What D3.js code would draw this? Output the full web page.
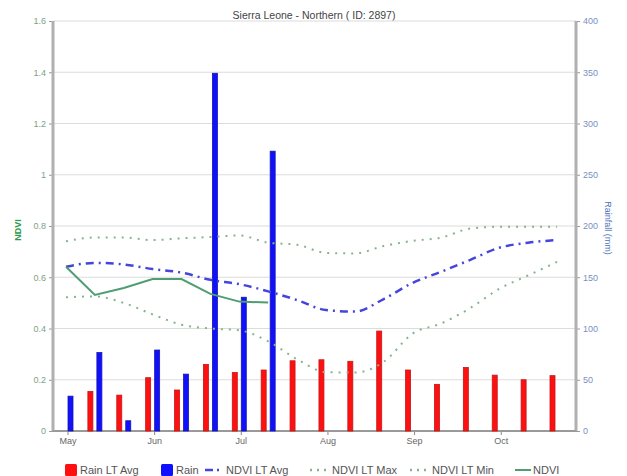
<!DOCTYPE html>
<html>
<head>
<meta charset="utf-8">
<script src="https://cdn.jsdelivr.net/npm/d3@7/dist/d3.min.js"></script>
<style>
  html, body { margin: 0; padding: 0; background: #fff; }
  svg { display: block; font-family: "Liberation Sans", Arial, sans-serif; }
</style>
</head>
<body>
<svg id="chart" width="627" height="476"></svg>
<script>
// Dekads from early May to late October (3 per month)
const dekads = d3.range(18);
const monthLabels = ["May", "Jun", "Jul", "Aug", "Sep", "Oct"];
const monthStart = [0, 3, 6, 9, 12, 15];

// Rainfall (mm per dekad)
const rainLTAvg = [null, 38.5, 35, 52, 40, 65, 57, 59.5, 68.5, 69.5, 68, 97.5, 59.5, 45.5, 62, 54.5, 50, 54];
const rain = [34, 76.5, 10, 79, 55.5, 349, 130.5, 273];

// NDVI
const ndviLTAvg = [0.641, 0.656, 0.650, 0.632, 0.618, 0.590, 0.573, 0.545, 0.511, 0.472, 0.466, 0.515, 0.578, 0.622, 0.668, 0.715, 0.735, 0.745];
const ndviLTMax = [0.740, 0.755, 0.755, 0.745, 0.752, 0.757, 0.763, 0.735, 0.727, 0.695, 0.693, 0.722, 0.742, 0.755, 0.790, 0.797, 0.797, 0.797];
const ndviLTMin = [0.522, 0.525, 0.500, 0.455, 0.415, 0.400, 0.393, 0.350, 0.280, 0.230, 0.228, 0.270, 0.380, 0.420, 0.480, 0.555, 0.607, 0.660];
const ndvi = [0.641, 0.531, 0.558, 0.593, 0.593, 0.535, 0.505, 0.501];

const ndviTicks = [0, 0.2, 0.4, 0.6, 0.8, 1, 1.2, 1.4, 1.6];
const rainTicks = [0, 50, 100, 150, 200, 250, 300, 350, 400];

const svg = d3.select("#chart");
const plotL = 53, plotR = 576, plotT = 21, plotB = 431;

const x = d3.scaleLinear().domain([0, 17]).range([66, 557]);
const y = d3.scaleLinear().domain([0, 1.6]).range([plotB, plotT]);
const y2 = d3.scaleLinear().domain([0, 400]).range([plotB, plotT]);

// Title
svg.append("text")
  .attr("x", 314).attr("y", 19)
  .attr("text-anchor", "middle")
  .attr("font-size", 10.5).attr("fill", "#444")
  .text("Sierra Leone - Northern ( ID: 2897)");

// Horizontal grid
svg.append("g").selectAll("line").data(ndviTicks.slice(1)).join("line")
  .attr("x1", plotL).attr("x2", plotR)
  .attr("y1", d => y(d)).attr("y2", d => y(d))
  .attr("stroke", "#dcdcdc").attr("stroke-width", 1.2);

// Left axis (NDVI)
const gl = svg.append("g").attr("transform", `translate(${plotL},0)`)
  .call(d3.axisLeft(y).tickValues(ndviTicks).tickFormat(d3.format("~g")).tickSize(4).tickPadding(3));
gl.select(".domain").remove();
gl.selectAll(".tick line").attr("stroke", "#999");
gl.selectAll(".tick text").attr("fill", "#7aa382").attr("font-size", 9)
  .attr("font-family", "Liberation Sans, Arial, sans-serif");

// Right axis (rain)
const gr = svg.append("g").attr("transform", `translate(${plotR},0)`)
  .call(d3.axisRight(y2).tickValues(rainTicks).tickSize(4).tickPadding(3));
gr.select(".domain").remove();
gr.selectAll(".tick line").attr("stroke", "#999");
gr.selectAll(".tick text").attr("fill", "#7890c0").attr("font-size", 9)
  .attr("font-family", "Liberation Sans, Arial, sans-serif");

// Bottom axis (months)
const gb = svg.append("g").attr("transform", `translate(0,${plotB})`)
  .call(d3.axisBottom(x).tickValues(monthStart).tickFormat((d, i) => monthLabels[i]).tickSize(4).tickPadding(3));
gb.select(".domain").remove();
gb.selectAll(".tick").attr("transform", d => `translate(${x(d) + 2},0)`);
gb.selectAll(".tick line").attr("stroke", "#888");
gb.selectAll(".tick text").attr("fill", "#666").attr("font-size", 9)
  .attr("font-family", "Liberation Sans, Arial, sans-serif");

// Axis frame lines
svg.append("line").attr("x1", plotL).attr("x2", plotL).attr("y1", plotT).attr("y2", plotB)
  .attr("stroke", "#b0b0b0").attr("stroke-width", 3);
svg.append("line").attr("x1", plotR).attr("x2", plotR).attr("y1", plotT).attr("y2", plotB)
  .attr("stroke", "#b0b0b0").attr("stroke-width", 3);
svg.append("line").attr("x1", plotL).attr("x2", plotR).attr("y1", plotB).attr("y2", plotB)
  .attr("stroke", "#9a9a9a").attr("stroke-width", 2);

// Axis titles
svg.append("text")
  .attr("transform", "translate(21,230) rotate(-90)")
  .attr("text-anchor", "middle").attr("font-size", 9).attr("font-weight", "bold")
  .attr("fill", "#2e9a4e").text("NDVI");
svg.append("text")
  .attr("transform", "translate(605,228) rotate(90)")
  .attr("text-anchor", "middle").attr("font-size", 9)
  .attr("fill", "#4a72b8").text("Rainfall (mm)");

// Rain bars
const barW = 5;
svg.append("g").selectAll("rect")
  .data(dekads.filter(i => rainLTAvg[i] != null))
  .join("rect")
  .attr("x", i => x(i) - 4.5 - barW / 2)
  .attr("y", i => y2(rainLTAvg[i]))
  .attr("width", barW)
  .attr("height", i => y2(0) - y2(rainLTAvg[i]))
  .attr("fill", "#ff1010").attr("stroke", "#c01818").attr("stroke-width", 0.8);

svg.append("g").selectAll("rect")
  .data(rain.map((v, i) => i))
  .join("rect")
  .attr("x", i => x(i) + 4.5 - barW / 2)
  .attr("y", i => y2(rain[i]))
  .attr("width", barW)
  .attr("height", i => y2(0) - y2(rain[i]))
  .attr("fill", "#1010ff").attr("stroke", "#1818a8").attr("stroke-width", 0.8);

// NDVI lines
const smooth = arr => d3.line().curve(d3.curveMonotoneX)
  .x((d, i) => x(i)).y(d => y(d))(arr);
const straight = arr => d3.line().x((d, i) => x(i)).y(d => y(d))(arr);

svg.append("path").attr("d", smooth(ndviLTMax))
  .attr("fill", "none").attr("stroke", "#86b48e").attr("stroke-width", 2)
  .attr("stroke-dasharray", "2,6");
svg.append("path").attr("d", smooth(ndviLTMin))
  .attr("fill", "none").attr("stroke", "#86b48e").attr("stroke-width", 2)
  .attr("stroke-dasharray", "2,6");
svg.append("path").attr("d", smooth(ndviLTAvg))
  .attr("fill", "none").attr("stroke", "#4545dc").attr("stroke-width", 2.5)
  .attr("stroke-dasharray", "8,5,2,5");
svg.append("path").attr("d", straight(ndvi))
  .attr("fill", "none").attr("stroke", "#4f9d72").attr("stroke-width", 2);

// Legend
const legendY = 470;
const lg = svg.append("g").attr("font-size", 11).attr("fill", "#555");
const legendItems = [
  { label: "Rain LT Avg", type: "rect", color: "#ff1010", x: 65, tx: 80 },
  { label: "Rain", type: "rect", color: "#1010ff", x: 161, tx: 176 },
  { label: "NDVI LT Avg", type: "dashdot", color: "#4545dc", x: 205, tx: 226 },
  { label: "NDVI LT Max", type: "dot", color: "#86b48e", x: 310, tx: 332 },
  { label: "NDVI LT Min", type: "dot", color: "#86b48e", x: 410, tx: 432 },
  { label: "NDVI", type: "line", color: "#4f9d72", x: 515, tx: 533 }
];
legendItems.forEach(it => {
  const g = lg.append("g");
  if (it.type === "rect") {
    g.append("rect").attr("x", it.x).attr("y", legendY - 6).attr("width", 12).attr("height", 12)
      .attr("rx", 1.5).attr("fill", it.color);
  } else {
    const dash = it.type === "dashdot" ? "8,4,2,4" : it.type === "dot" ? "2,5" : null;
    const ln = g.append("line").attr("x1", it.x).attr("x2", it.x + 16)
      .attr("y1", legendY).attr("y2", legendY)
      .attr("stroke", it.color).attr("stroke-width", it.type === "line" ? 2 : 2.5);
    if (dash) ln.attr("stroke-dasharray", dash);
  }
  g.append("text").attr("x", it.tx).attr("y", legendY + 4).attr("fill", "#555").text(it.label);
});
</script>
</body>
</html>
